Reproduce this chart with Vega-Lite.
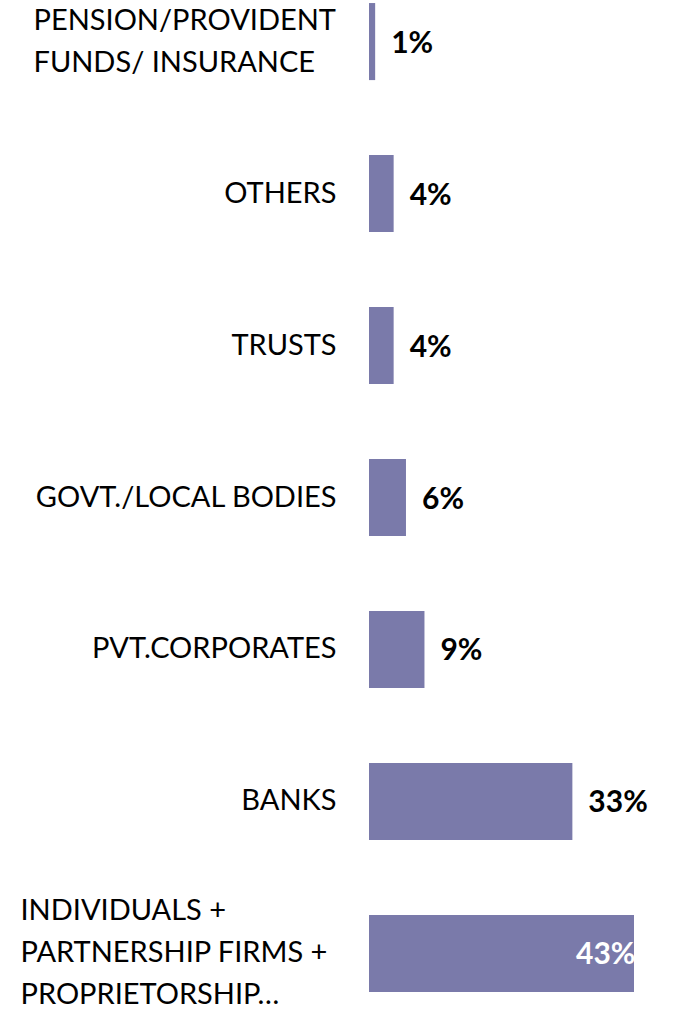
{
  "$schema": "https://vega.github.io/schema/vega-lite/v6.json",
  "autosize": "none",
  "width": 265,
  "height": 995,
  "padding": {"left": 369, "top": 0, "right": 47, "bottom": 16},
  "background": "white",
  "config": {"view": {"stroke": null}, "font": "Lato"},
  "data": {
    "values": [
      {"category": "PENSION/PROVIDENT|FUNDS/ INSURANCE", "value": 1, "label": "1%"},
      {"category": "OTHERS", "value": 4, "label": "4%"},
      {"category": "TRUSTS", "value": 4, "label": "4%"},
      {"category": "GOVT./LOCAL BODIES", "value": 6, "label": "6%"},
      {"category": "PVT.CORPORATES", "value": 9, "label": "9%"},
      {"category": "BANKS", "value": 33, "label": "33%"},
      {"category": "INDIVIDUALS +|PARTNERSHIP FIRMS +|PROPRIETORSHIP…", "value": 43, "label": "43%"}
    ]
  },
  "encoding": {
    "y": {
      "field": "category",
      "type": "nominal",
      "sort": null,
      "scale": {"paddingInner": 0.493, "paddingOuter": 0.02},
      "axis": {
        "title": null,
        "domain": false,
        "ticks": false,
        "labelFontSize": 29,
        "labelColor": "#000000",
        "labelFont": "Lato",
        "labelLineHeight": 42,
        "labelLimit": 400,
        "labelExpr": "split(datum.label, '|')",
        "labelAlign": {
          "condition": {"test": "length(split(datum.value, '|')) > 1", "value": "left"},
          "value": "right"
        },
        "labelPadding": {
          "condition": [
            {"test": "length(split(datum.value, '|')) == 3", "value": 349},
            {"test": "length(split(datum.value, '|')) == 2", "value": 336}
          ],
          "value": 33
        },
        "labelOffset": {
          "condition": [
            {"test": "length(split(datum.value, '|')) == 3", "value": -42},
            {"test": "length(split(datum.value, '|')) == 2", "value": -21}
          ],
          "value": 0
        }
      }
    },
    "x": {
      "field": "value",
      "type": "quantitative",
      "scale": {"domain": [0, 43], "nice": false},
      "axis": null
    }
  },
  "layer": [
    {"mark": {"type": "bar", "color": "#7a7aaa"}},
    {
      "transform": [{"filter": "datum.value < 40"}],
      "mark": {"type": "text", "align": "left", "baseline": "middle", "dx": 16, "dy": 2, "fontSize": 30, "fontWeight": "bold", "color": "#000000"},
      "encoding": {"text": {"field": "label"}}
    },
    {
      "transform": [{"filter": "datum.value >= 40"}],
      "mark": {"type": "text", "align": "left", "baseline": "middle", "dx": -58, "dy": 2, "fontSize": 30, "fontWeight": "bold", "color": "#ffffff", "clip": true},
      "encoding": {"text": {"field": "label"}}
    }
  ]
}
